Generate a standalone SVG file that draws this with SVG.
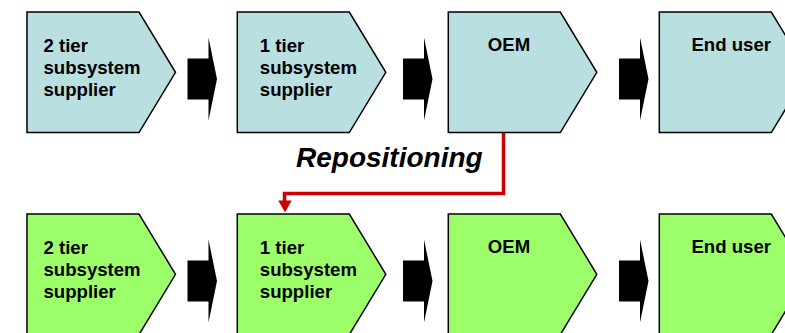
<svg xmlns="http://www.w3.org/2000/svg" width="785" height="333" viewBox="0 0 785 333">
  <style>
    .stage { stroke: #000; stroke-width: 1.5; stroke-linejoin: miter; }
    .before { fill: #b9dfe1; }
    .after { fill: #9cff6a; }
    .label { font-family: "Liberation Sans", Arial, sans-serif; font-weight: bold; font-size: 18.6px; fill: #000; }
    .flow { fill: #000; }
    .move { fill: none; stroke: #cc0000; stroke-width: 3.5; }
    .title { font-family: "Liberation Sans", Arial, sans-serif; font-weight: bold; font-style: italic; font-size: 28px; fill: #000; }
  </style>
  <defs>
    <!-- chevron-shaped stage box -->
    <path id="chev" d="M0,0 H112 L148.5,60.3 L112,120.6 H0 Z"/>
    <!-- block arrow between stages -->
    <path id="blk" d="M0,21 H21 V0 L29.5,41.5 L21,83 V62 H0 Z"/>
  </defs>

  <!-- current chain -->
  <g id="top-tier2" transform="translate(27,12)">
    <use href="#chev" class="stage before"/>
    <text class="label" x="16.5" y="39.7">2 tier</text>
    <text class="label" x="16.5" y="62">subsystem</text>
    <text class="label" x="16.5" y="84">supplier</text>
  </g>
  <g id="top-tier1" transform="translate(237.3,12)">
    <use href="#chev" class="stage before"/>
    <text class="label" x="22.5" y="39.7">1 tier</text>
    <text class="label" x="22.5" y="62">subsystem</text>
    <text class="label" x="22.5" y="84">supplier</text>
  </g>
  <g id="top-oem" transform="translate(448.3,12)">
    <use href="#chev" class="stage before"/>
    <text class="label" x="60.7" y="38.7" text-anchor="middle">OEM</text>
  </g>
  <g id="top-enduser" transform="translate(659.3,12)">
    <use href="#chev" class="stage before"/>
    <text class="label" x="71.9" y="38.7" text-anchor="middle">End user</text>
  </g>

  <!-- repositioned chain -->
  <g id="bottom-tier2" transform="translate(27,214)">
    <use href="#chev" class="stage after"/>
    <text class="label" x="16.5" y="39.7">2 tier</text>
    <text class="label" x="16.5" y="62">subsystem</text>
    <text class="label" x="16.5" y="84">supplier</text>
  </g>
  <g id="bottom-tier1" transform="translate(237.3,214)">
    <use href="#chev" class="stage after"/>
    <text class="label" x="22.5" y="39.7">1 tier</text>
    <text class="label" x="22.5" y="62">subsystem</text>
    <text class="label" x="22.5" y="84">supplier</text>
  </g>
  <g id="bottom-oem" transform="translate(448.3,214)">
    <use href="#chev" class="stage after"/>
    <text class="label" x="60.7" y="38.7" text-anchor="middle">OEM</text>
  </g>
  <g id="bottom-enduser" transform="translate(659.3,214)">
    <use href="#chev" class="stage after"/>
    <text class="label" x="71.9" y="38.7" text-anchor="middle">End user</text>
  </g>

  <g id="connectors">
    <use href="#blk" class="flow" x="187.5" y="37.5"/>
    <use href="#blk" class="flow" x="403" y="37.5"/>
    <use href="#blk" class="flow" x="619" y="37.5"/>
    <use href="#blk" class="flow" x="187.5" y="239.5"/>
    <use href="#blk" class="flow" x="403" y="239.5"/>
    <use href="#blk" class="flow" x="619" y="239.5"/>
    <!-- repositioning path from OEM down to the 1 tier supplier -->
    <polyline class="move" points="503.5,133 503.5,193.5 284.5,193.5 284.5,201"/>
    <polygon fill="#cc0000" points="278.3,200.5 291.7,200.5 285,212.5"/>
  </g>

  <text class="title" x="296" y="166.7">Repositioning</text>
</svg>
